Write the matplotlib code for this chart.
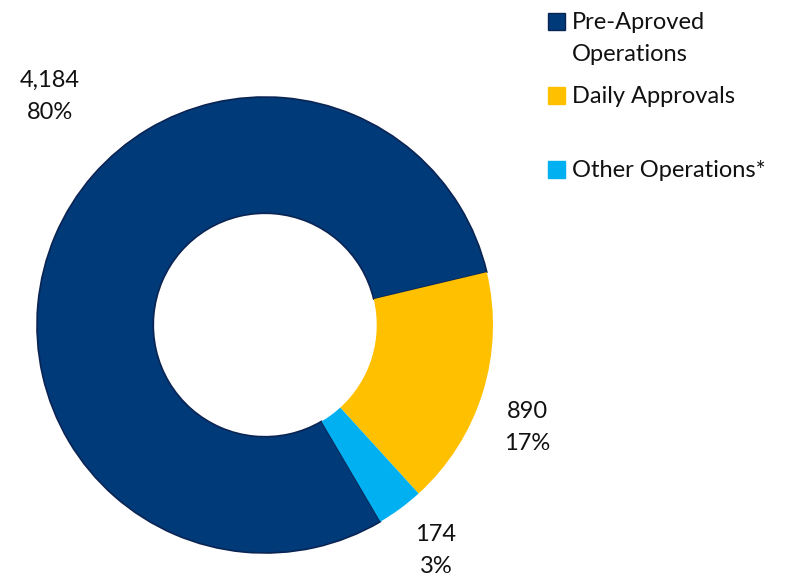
import matplotlib
matplotlib.use("Agg")
import matplotlib.pyplot as plt
from matplotlib.patches import Rectangle

# data
categories = ["Pre-Aproved\nOperations", "Daily Approvals", "Other Operations*"]
values = [4184, 890, 174]
colors = ["#003A78", "#FFC000", "#00B0F0"]

W, H = 786, 576
LINE = 32  # line height in pixels
plt.rcParams["font.family"] = ["Lato", "DejaVu Sans"]

fig = plt.figure(figsize=(W / 100, H / 100), dpi=100)


def put_lines(x, y_base, text, ha):
    # one fig.text per line, each placed on its own baseline (pixels from top)
    for i, line in enumerate(text.split("\n")):
        fig.text(x / W, 1 - (y_base + i * LINE) / H, line, ha=ha, va="baseline",
                 fontsize=17, color="#111111")


# donut centre and radius in pixels
cx, cy, r = 265, 325, 228
ax = fig.add_axes([(cx - r) / W, (H - cy - r) / H, 2 * r / W, 2 * r / H])

total = sum(values)
start = 13.4 + values[0] / total * 360
wedges, _ = ax.pie(values, colors=colors, startangle=start, counterclock=False,
                   radius=1.0, wedgeprops=dict(width=0.51, linewidth=0))
wedges[0].set_edgecolor("#0A2454")
wedges[0].set_linewidth(1.2)
ax.set_xlim(-1, 1)
ax.set_ylim(-1, 1)
ax.set_aspect("equal")
ax.axis("off")

# value labels
label_pos = [(50, 87), (527, 418), (436, 541)]
for v, (px, py) in zip(values, label_pos):
    pct = round(v / total * 100)
    put_lines(px, py, f"{v:,}\n{pct}%", "center")

# legend
legend_base = [29, 103, 177]
for lab, col, yb in zip(categories, colors, legend_base):
    top = yb - 16
    fig.patches.append(Rectangle((548 / W, 1 - (top + 17) / H), 17 / W, 17 / H,
                                 transform=fig.transFigure, facecolor=col,
                                 edgecolor="#0A2454" if col == colors[0] else col,
                                 linewidth=1))
    put_lines(572, yb, lab, "left")

fig.savefig("out.png", dpi=100)
